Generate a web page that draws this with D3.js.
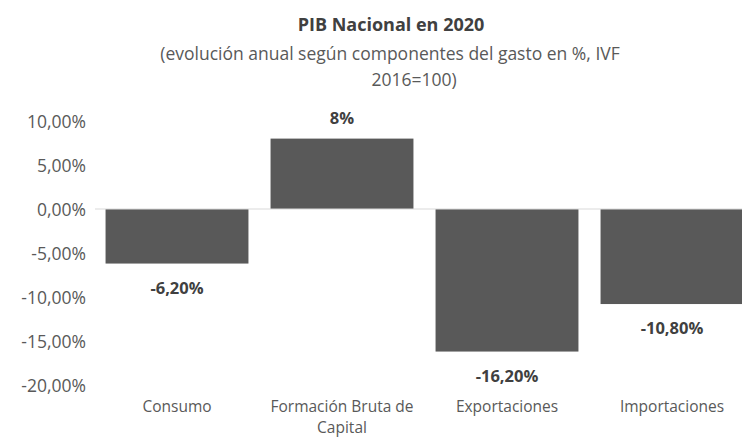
<!DOCTYPE html>
<html lang="es">
<head>
  <meta charset="UTF-8">
  <title>PIB Nacional en 2020</title>
  <style>
    * { margin: 0; box-sizing: border-box; }
    body { background: #fff; width: 742px; height: 439px; overflow: hidden; }
    svg { display: block; }
    svg text { font-family: "Open Sans", sans-serif; }
    .y-axis .tick text { fill: #595959; font-size: 17.5px; }
    .x-axis .tick text { fill: #595959; font-size: 15.5px; }
  </style>
</head>
<body>
  <svg></svg>
  <script src="https://d3js.org/d3.v7.min.js"></script>
  <script>
    const categories = ['Consumo', 'Formación Bruta de Capital', 'Exportaciones', 'Importaciones'];
    const values = [-6.2, 8, -16.2, -10.8];
    const valueLabels = ['-6,20%', '8%', '-16,20%', '-10,80%'];
    const yTicks = [-20, -15, -10, -5, 0, 5, 10];

    const width = 742;
    const height = 439;

    const svg = d3.select('svg')
      .attr('width', width)
      .attr('height', height);

    const x = d3.scaleBand()
      .domain(categories)
      .range([94.5, 754.5])
      .paddingInner(0.134)
      .paddingOuter(0.067);

    const y = d3.scaleLinear()
      .domain([-20, 10])
      .range([385, 121]);

    // title
    svg.append('text')
      .attr('x', 391).attr('y', 31)
      .attr('text-anchor', 'middle')
      .attr('font-size', 18).attr('font-weight', 'bold')
      .attr('fill', '#404040')
      .text('PIB Nacional en 2020');

    const sub = svg.append('text')
      .attr('text-anchor', 'middle')
      .attr('font-size', 17.5)
      .attr('fill', '#595959');
    sub.append('tspan').attr('x', 390).attr('y', 60)
      .text('(evolución anual según componentes del gasto en %, IVF');
    sub.append('tspan').attr('x', 414).attr('y', 86)
      .text('2016=100)');

    // y axis, labels only
    const fmt = d => d3.format('.2f')(d).replace('.', ',').replace('−', '-') + '%';
    svg.append('g')
      .attr('class', 'y-axis')
      .attr('transform', 'translate(88,0)')
      .call(d3.axisLeft(y).tickValues(yTicks).tickFormat(fmt).tickSize(0).tickPadding(2))
      .call(g => g.select('.domain').remove())
      .selectAll('text')
      .attr('dy', '0.35em');

    // bars
    svg.selectAll('rect.bar')
      .data(values)
      .join('rect')
      .attr('class', 'bar')
      .attr('x', (d, i) => x(categories[i]))
      .attr('width', x.bandwidth())
      .attr('y', d => y(Math.max(0, d)))
      .attr('height', d => Math.abs(y(d) - y(0)))
      .attr('fill', '#595959');

    // zero line
    svg.append('line')
      .attr('x1', 95).attr('x2', width)
      .attr('y1', y(0)).attr('y2', y(0))
      .attr('stroke', '#d9d9d9')
      .attr('stroke-width', 1);

    // value labels
    svg.selectAll('text.val')
      .data(values)
      .join('text')
      .attr('class', 'val')
      .attr('x', (d, i) => x(categories[i]) + x.bandwidth() / 2)
      .attr('y', d => d < 0 ? y(d) + 30 : y(d) - 15)
      .attr('text-anchor', 'middle')
      .attr('font-size', 16.5)
      .attr('font-weight', 'bold')
      .attr('fill', '#404040')
      .text((d, i) => valueLabels[i]);

    // category labels
    const xAxis = svg.append('g')
      .attr('class', 'x-axis')
      .attr('transform', 'translate(0,' + 398 + ')')
      .call(d3.axisBottom(x).tickSize(0).tickPadding(0))
      .call(g => g.select('.domain').remove());

    xAxis.selectAll('text').each(function(d) {
      const t = d3.select(this);
      const words = d.split(' ');
      t.text(null).attr('y', 0).attr('dy', null);
      let lines = [];
      let line = [];
      words.forEach(w => {
        line.push(w);
        if (line.join(' ').length > 18) {
          line.pop();
          lines.push(line.join(' '));
          line = [w];
        }
      });
      lines.push(line.join(' '));
      lines.forEach((l, i) => {
        t.append('tspan').attr('x', 0).attr('y', 14 + i * 20.5).text(l);
      });
    });
  </script>
</body>
</html>
